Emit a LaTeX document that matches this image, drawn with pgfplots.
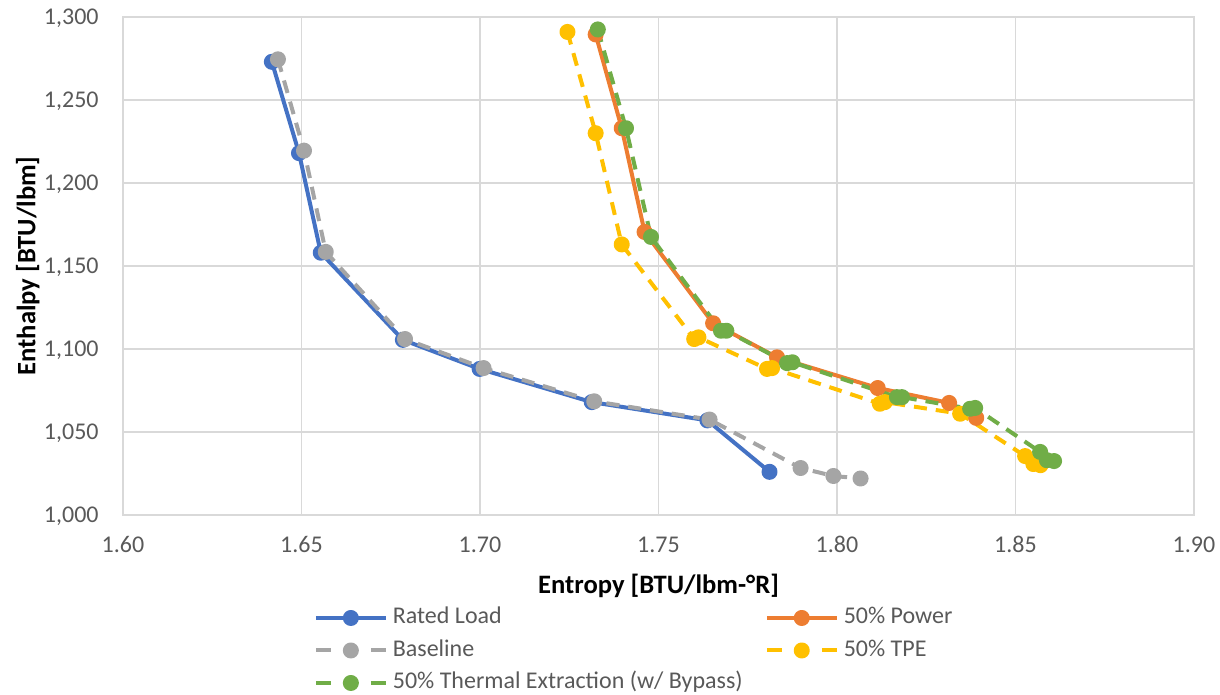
\documentclass[border=0pt]{standalone}
\usepackage{fontspec}
\setmainfont{Carlito}
\usepackage{pgfplots}
\pgfplotsset{compat=1.18}

\definecolor{cBlue}{HTML}{4472C4}
\definecolor{cOrange}{HTML}{ED7D31}
\definecolor{cGray}{HTML}{A5A5A5}
\definecolor{cYellow}{HTML}{FFC000}
\definecolor{cGreen}{HTML}{70AD47}
\definecolor{gridgray}{HTML}{D9D9D9}
\definecolor{txtgray}{HTML}{595959}

\pgfplotsset{
  legend solid/.style={legend image code/.code={
    \draw[mark repeat=2,mark phase=2,##1] plot coordinates {(0pt,0pt) (17.5pt,0pt) (35pt,0pt)};}},
  legend dashed/.style={legend image code/.code={
    \draw[mark repeat=2,mark phase=2,##1,dash pattern=on 7.5pt off 20pt] plot coordinates {(0pt,0pt) (17.5pt,0pt) (35pt,0pt)};}},
  series/.style={color=#1, line width=2pt, line join=round, mark=*, mark size=3pt, mark options={solid}},
  dashed series/.style={series=#1, dash pattern=on 6.5pt off 4.5pt, legend dashed},
}

\begin{document}
\begin{tikzpicture}
\begin{axis}[
    scale only axis,
    width=535.5pt, height=249pt,
    xmin=1.60, xmax=1.90, ymin=1000, ymax=1300,
    xtick={1.60,1.65,1.70,1.75,1.80,1.85,1.90},
    ytick={1000,1050,1100,1150,1200,1250,1300},
    scaled x ticks=false, scaled y ticks=false,
    grid=major,
    major grid style={draw=gridgray, line width=0.7pt},
    axis line style={draw=gridgray, line width=0.7pt},
    major tick length=0pt,
    /pgf/number format/assume math mode=true,
    ticklabel style={font=\fontsize{12}{14}\selectfont, text=txtgray, inner sep=0pt},
    xticklabel style={anchor=base, yshift=-19pt,
      /pgf/number format/.cd, fixed, fixed zerofill, precision=2},
    yticklabel style={anchor=base east, xshift=-12pt, yshift=-3.8pt,
      /pgf/number format/.cd, fixed, 1000 sep={,}},
    xlabel={Entropy [BTU/lbm-°R]},
    ylabel={Enthalpy [BTU/lbm]},
    label style={font=\fontsize{13.3}{15}\selectfont\bfseries, text=black, inner sep=0pt},
    xlabel style={at={(axis description cs:0.5,0)}, anchor=base, yshift=-39.25pt},
    ylabel style={at={(axis description cs:0,0.5)}, anchor=base, yshift=43.75pt},
    legend columns=2,
    legend cell align=left,
    legend style={
      at={(0.1782,-0.1827)}, anchor=north west,
      draw=none, fill=none, inner sep=0pt, outer sep=0pt,
      row sep=4.25pt,
      /tikz/column 1/.style={column sep=2.5pt},
      /tikz/column 2/.style={column sep=11pt},
      /tikz/column 3/.style={column sep=2.5pt},
      nodes={inner sep=0pt, text height=9pt, text depth=3pt,
             font=\fontsize{12}{14}\selectfont, text=txtgray},
    },
]
\addplot[series=cBlue, legend solid] coordinates {
  (1.6417,1273) (1.6493,1218) (1.6554,1158) (1.6784,1105.5)
  (1.6999,1088) (1.7313,1068) (1.7637,1057) (1.7811,1026)};
\addlegendentry{Rated Load}
\addplot[series=cOrange, legend solid] coordinates {
  (1.7324,1289.5) (1.7397,1233) (1.7461,1170.5) (1.7653,1115.5)
  (1.7832,1095) (1.8114,1076.5) (1.8314,1067.5) (1.8390,1058.5)};
\addlegendentry{50\% Power}
\addplot[dashed series=cGray] coordinates {
  (1.6434,1274.5) (1.6507,1219.5) (1.6568,1158.5) (1.6790,1106)
  (1.7010,1088.5) (1.7320,1068.5) (1.7643,1057.5) (1.7898,1028.3)
  (1.7990,1023.5) (1.8066,1022)};
\addlegendentry{Baseline}
\addplot[dashed series=cYellow] coordinates {
  (1.7245,1291) (1.7324,1230) (1.7397,1163) (1.7600,1106)
  (1.7612,1107) (1.7804,1088) (1.7818,1088.5) (1.8120,1067)
  (1.8134,1068) (1.8345,1061) (1.8527,1035.5) (1.8550,1030.7)
  (1.8570,1030)};
\addlegendentry{50\% TPE}
\addplot[dashed series=cGreen] coordinates {
  (1.7330,1292.5) (1.7409,1233) (1.7479,1167.5) (1.7675,1111)
  (1.7690,1111) (1.7860,1091.5) (1.7875,1092) (1.8168,1071)
  (1.8182,1071) (1.8373,1064) (1.8387,1064.5) (1.8569,1038)
  (1.8588,1033) (1.8608,1032.5)};
\addlegendentry{50\% Thermal Extraction (w/ Bypass)}
\end{axis}
\path[use as bounding box] (-61.5pt,-89.5pt) rectangle (548.5pt,257.5pt);
\end{tikzpicture}
\end{document}
